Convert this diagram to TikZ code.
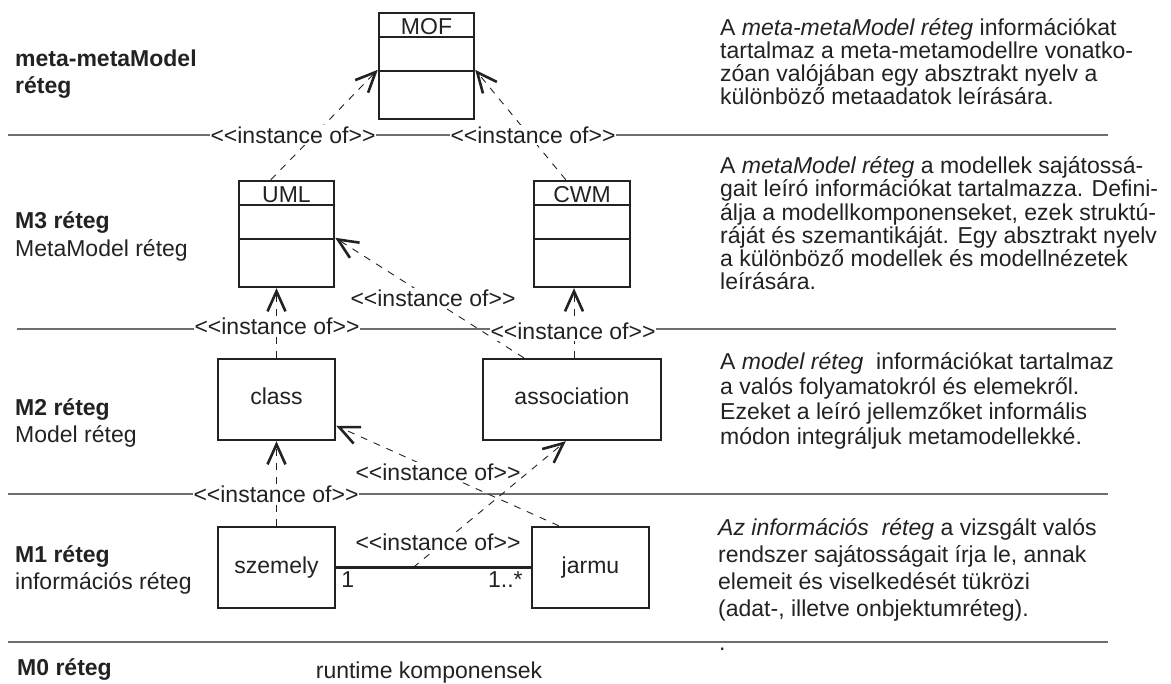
\documentclass[tikz,border=0pt]{standalone}
\usepackage{fontspec}
\setmainfont{Liberation Sans}
\usetikzlibrary{arrows.meta,calc}
\definecolor{ink}{HTML}{222222}
\definecolor{rulegray}{HTML}{6E6E6E}
\newcommand\txtsize{\fontsize{23}{23.3}\selectfont}

\begin{document}
\begin{tikzpicture}[x=1pt,y=-1pt,
  every node/.style={text=ink, font=\txtsize},
  sepline/.style={draw=rulegray, line width=1.4pt},
  inst/.style={fill=white, inner xsep=1pt, inner ysep=2pt},
  umlbox/.style={draw=ink, line width=2.4pt, inner sep=0pt},
  boxtext/.style={umlbox, text height=11pt, text depth=0pt},
  divline/.style={draw=ink, line width=2.2pt},
  dep/.style={draw=ink, line width=0.9pt, dash pattern=on 7pt off 7pt,
    -{Straight Barb[length=20pt, width=18pt, line width=2.6pt]}},
  assocline/.style={draw=ink, line width=2.4pt},
  lefttxt/.style={anchor=base west, inner sep=0pt},
  % multi-line blocks: the base anchor sits on the last line
  blocktxt/.style={anchor=base west, align=left, inner sep=0pt}]

\useasboundingbox (0,0) rectangle (1171,684);

% layer separators
\draw[sepline] (8,135) -- (1108,135);
\draw[sepline] (17,329) -- (1116,329);
\draw[sepline] (8,494) -- (1108,494);
\draw[sepline] (8,642) -- (1108,642);

% class boxes with compartments
\node[umlbox, minimum width=95pt, minimum height=106pt] (mof) at (426.5,66) {};
\node[umlbox, minimum width=95pt, minimum height=106pt] (uml) at (286.5,234) {};
\node[umlbox, minimum width=96pt, minimum height=106pt] (cwm) at (582,234) {};
\foreach \b/\t in {mof/MOF, uml/UML, cwm/CWM}{
  \node[anchor=base, inner sep=0pt] (\b-name) at ($(\b.north)+(0,22.5)$) {\t};
  \draw[divline] ($(\b.north west)+(1.2,25)$) -- ($(\b.north east)+(-1.2,25)$);
  \draw[divline] ($(\b.north west)+(1.2,59)$) -- ($(\b.north east)+(-1.2,59)$);
}

% model and information layer boxes
\node[boxtext, minimum width=117pt, minimum height=81pt] (class) at (276.5,399.5) {class};
\node[boxtext, minimum width=178pt, minimum height=81pt] (assoc) at (572,399.5) {association};
\node[boxtext, minimum width=117pt, minimum height=81pt] (szemely) at (276.5,567.5) {szemely};
\node[boxtext, minimum width=117pt, minimum height=81pt] (jarmu) at (590.5,567.5) {jarmu};

% association between szemely and jarmu
\draw[assocline] (szemely) -- (jarmu);
\node[anchor=base west, inner sep=0pt] (mult1) at ($(szemely.east)+(5,20)$) {1};
\node[anchor=base east, inner sep=0pt] (mult2) at ($(jarmu.west)+(-8,20)$) {1..*};
\coordinate (linkmid) at ($(szemely.east)+(77,0)$);

% instance-of dependencies
\coordinate (assocTop) at ($(assoc.north)+(2,0)$);
\draw[dep] ($(uml.north west)+(33,0)$) -- ($(mof.north west)+(0,58)$);
\draw[dep] ($(cwm.north west)+(33,0)$) -- ($(mof.north east)+(0,58)$);
\draw[dep] (class.north) -- (class.north |- uml.south);
\draw[dep] (assocTop) -- (assocTop |- cwm.south);
\draw[dep] ($(assoc.north west)+(42,0)$) -- ($(uml.north east)+(0,58)$);
\draw[dep] (szemely.north) -- (szemely.north |- class.south);
\draw[dep] ($(jarmu.north west)+(28,0)$) -- ($(class.north east)+(0,68)$);
\draw[dep] (linkmid) -- ($(assoc.south west)+(84,0)$);

% stereotype labels
\node[inst] (inst1) at (293,135) {<{}<instance of>{}>};
\node[inst] (inst2) at (533,135) {<{}<instance of>{}>};
\node[inst] (inst3) at (277,326) {<{}<instance of>{}>};
\node[inst] (inst4) at (573,331) {<{}<instance of>{}>};
\node[inst] (inst5) at (433,298) {<{}<instance of>{}>};
\node[inst] (inst6) at (276,494) {<{}<instance of>{}>};
\node[inst] (inst7) at (438,472) {<{}<instance of>{}>};
\node[inst] (inst8) at (438,542) {<{}<instance of>{}>};

% layer names
\node[lefttxt] (l0a) at (15,67) {\bfseries meta-metaModel};
\node[lefttxt] (l0b) at (15,94) {\bfseries réteg};
\node[lefttxt] (l3a) at (15,229) {\bfseries M3 réteg};
\node[lefttxt] (l3b) at (15,257) {MetaModel réteg};
\node[lefttxt] (l2a) at (15,416) {\bfseries M2 réteg};
\node[lefttxt] (l2b) at (15,443) {Model réteg};
\node[lefttxt] (l1a) at (15,562) {\bfseries M1 réteg};
\node[lefttxt] (l1b) at (15,590) {információs réteg};
\node[lefttxt] (l0m) at (17,675) {\bfseries M0 réteg};
\node[anchor=base, inner sep=0pt] (runtime) at (429,678) {runtime komponensek};

% layer descriptions
\node[blocktxt] (d1) at (720,105) {A \textit{meta-metaModel réteg} információkat\\
tartalmaz a meta-metamodellre vonatko-\\
zóan valójában egy absztrakt nyelv a\\
különböző metaadatok leírására.};
\node[blocktxt] (d2) at (720,290) {A \textit{metaModel réteg} a modellek sajátossá-\\
gait leíró információkat tartalmazza. Defini-\\
álja a modellkomponenseket, ezek struktú-\\
ráját és szemantikáját. Egy absztrakt nyelv\\
a különböző modellek és modellnézetek\\
leírására.};
\node[blocktxt, font=\fontsize{23}{25}\selectfont] (d3) at (720,445) {A \textit{model réteg}\ \ információkat tartalmaz\\
a valós folyamatokról és elemekről.\\
Ezeket a leíró jellemzőket informális\\
módon integráljuk metamodellekké.};
\node[blocktxt, font=\fontsize{23}{27}\selectfont] (d4) at (718,616) {\textit{Az információs\ \ réteg} a vizsgált valós\\
rendszer sajátosságait írja le, annak\\
elemeit és viselkedését tükrözi\\
(adat-, illetve onbjektumréteg).};
\node[anchor=base west, inner sep=0pt] (dot) at (719,650) {.};
\end{tikzpicture}
\end{document}
